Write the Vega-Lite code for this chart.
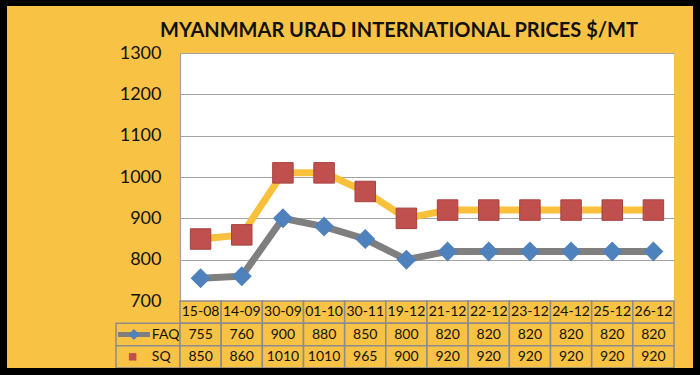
{
  "$schema": "https://vega.github.io/schema/vega-lite/v6.json",
  "background": "#F8C244",
  "padding": 0,
  "columns": 6,
  "spacing": 0,
  "bounds": "flush",
  "align": "each",
  "config": {"font": "Lato"},
  "datasets": {
    "prices": [
      {"date": "15-08", "FAQ": 755, "SQ": 850},
      {"date": "14-09", "FAQ": 760, "SQ": 860},
      {"date": "30-09", "FAQ": 900, "SQ": 1010},
      {"date": "01-10", "FAQ": 880, "SQ": 1010},
      {"date": "30-11", "FAQ": 850, "SQ": 965},
      {"date": "19-12", "FAQ": 800, "SQ": 900},
      {"date": "21-12", "FAQ": 820, "SQ": 920},
      {"date": "22-12", "FAQ": 820, "SQ": 920},
      {"date": "23-12", "FAQ": 820, "SQ": 920},
      {"date": "24-12", "FAQ": 820, "SQ": 920},
      {"date": "25-12", "FAQ": 820, "SQ": 920},
      {"date": "26-12", "FAQ": 820, "SQ": 920}
    ]
  },
  "concat": [
    {"width": 7, "height": 6, "view": {"fill": "#000000", "stroke": null}, "data": {"values": []}, "mark": "rect", "encoding": {}},
    {"width": 109, "height": 6, "view": {"fill": "#000000", "stroke": null}, "data": {"values": []}, "mark": "rect", "encoding": {}},
    {"width": 64, "height": 6, "view": {"fill": "#000000", "stroke": null}, "data": {"values": []}, "mark": "rect", "encoding": {}},
    {"width": 494, "height": 6, "view": {"fill": "#000000", "stroke": null}, "data": {"values": []}, "mark": "rect", "encoding": {}},
    {"width": 19, "height": 6, "view": {"fill": "#000000", "stroke": null}, "data": {"values": []}, "mark": "rect", "encoding": {}},
    {"width": 7, "height": 6, "view": {"fill": "#000000", "stroke": null}, "data": {"values": []}, "mark": "rect", "encoding": {}},

    {"width": 7, "height": 47, "view": {"fill": "#000000", "stroke": null}, "data": {"values": []}, "mark": "rect", "encoding": {}},
    {"width": 109, "height": 47, "view": {"stroke": null}, "data": {"values": []}, "mark": "rect", "encoding": {}},
    {"width": 64, "height": 47, "view": {"stroke": null}, "data": {"values": []}, "mark": "rect", "encoding": {}},
    {
      "width": 494, "height": 47,
      "view": {"stroke": null},
      "data": {"values": [{}]},
      "mark": {"type": "text", "text": "MYANMMAR URAD INTERNATIONAL PRICES $/MT", "font": "Lato", "fontWeight": "bold", "fontSize": 20, "color": "#111111", "align": "center", "baseline": "middle", "dx": -28, "dy": 1},
      "encoding": {}
    },
    {"width": 19, "height": 47, "view": {"stroke": null}, "data": {"values": []}, "mark": "rect", "encoding": {}},
    {"width": 7, "height": 47, "view": {"fill": "#000000", "stroke": null}, "data": {"values": []}, "mark": "rect", "encoding": {}},

    {"width": 7, "height": 248, "view": {"fill": "#000000", "stroke": null}, "data": {"values": []}, "mark": "rect", "encoding": {}},
    {"width": 109, "height": 248, "view": {"stroke": null}, "data": {"values": []}, "mark": "rect", "encoding": {}},
    {"width": 64, "height": 248, "view": {"stroke": null}, "data": {"values": []}, "mark": "rect", "encoding": {}},
    {
      "width": 494, "height": 248,
      "view": {"fill": "#FFFFFF", "stroke": null},
      "data": {"name": "prices"},
      "encoding": {
        "x": {"field": "date", "type": "ordinal", "sort": null, "scale": {"type": "point", "padding": 0.5}, "axis": null}
      },
      "layer": [
        {
          "mark": {"type": "line", "color": "#7F7F7F", "strokeWidth": 7},
          "encoding": {
            "y": {
              "field": "FAQ", "type": "quantitative", "title": null,
              "scale": {"domain": [700, 1300]},
              "axis": {
                "values": [700, 800, 900, 1000, 1100, 1200, 1300],
                "format": "d",
                "grid": true, "gridColor": "#A3A3A3", "gridWidth": 1.2,
                "domainColor": "#A3A3A3", "domainWidth": 1.2,
                "ticks": false,
                "labelFont": "Lato", "labelFontSize": 18, "labelColor": "#111111",
                "labelPadding": 19
              }
            }
          }
        },
        {
          "mark": {"type": "line", "color": "#F9C03C", "strokeWidth": 7},
          "encoding": {"y": {"field": "SQ", "type": "quantitative", "title": null}}
        },
        {
          "mark": {"type": "point", "shape": "diamond", "size": 400, "filled": true, "color": "#4F81BD", "opacity": 1},
          "encoding": {"y": {"field": "FAQ", "type": "quantitative", "title": null}}
        },
        {
          "mark": {"type": "point", "shape": "square", "size": 420, "filled": true, "color": "#C0504D", "stroke": "#A64240", "strokeWidth": 1, "opacity": 1},
          "encoding": {"y": {"field": "SQ", "type": "quantitative", "title": null}}
        }
      ]
    },
    {"width": 19, "height": 248, "view": {"stroke": null}, "data": {"values": []}, "mark": "rect", "encoding": {}},
    {"width": 7, "height": 248, "view": {"fill": "#000000", "stroke": null}, "data": {"values": []}, "mark": "rect", "encoding": {}},

    {"width": 7, "height": 67, "view": {"fill": "#000000", "stroke": null}, "data": {"values": []}, "mark": "rect", "encoding": {}},
    {"width": 109, "height": 67, "view": {"stroke": null}, "data": {"values": []}, "mark": "rect", "encoding": {}},
    {
      "width": 64, "height": 67,
      "view": {"stroke": null},
      "data": {"values": [{"row": "FAQ"}, {"row": "SQ"}]},
      "layer": [
        {
          "mark": {"type": "rect", "fill": "#F8C244", "stroke": "#8C8C8C", "strokeWidth": 1.5},
          "encoding": {
            "y": {"field": "row", "type": "nominal", "scale": {"type": "band", "domain": ["date", "FAQ", "SQ"], "paddingInner": 0, "paddingOuter": 0}, "axis": null}
          }
        },
        {
          "transform": [{"filter": "datum.row === 'FAQ'"}],
          "mark": {"type": "rule", "color": "#7F7F7F", "strokeWidth": 5},
          "encoding": {
            "y": {"field": "row", "type": "nominal", "bandPosition": 0.5},
            "x": {"datum": 0.03, "type": "quantitative", "scale": {"domain": [0, 1]}, "axis": null},
            "x2": {"datum": 0.53}
          }
        },
        {
          "transform": [{"filter": "datum.row === 'FAQ'"}],
          "mark": {"type": "point", "shape": "diamond", "size": 120, "filled": true, "color": "#4F81BD", "opacity": 1},
          "encoding": {
            "y": {"field": "row", "type": "nominal", "bandPosition": 0.5},
            "x": {"datum": 0.28, "type": "quantitative"}
          }
        },
        {
          "transform": [{"filter": "datum.row === 'SQ'"}],
          "mark": {"type": "point", "shape": "square", "size": 56, "filled": true, "color": "#C0504D", "opacity": 1},
          "encoding": {
            "y": {"field": "row", "type": "nominal", "bandPosition": 0.5},
            "x": {"datum": 0.26, "type": "quantitative"}
          }
        },
        {
          "mark": {"type": "text", "align": "left", "baseline": "middle", "font": "Lato", "fontSize": 14, "color": "#111111"},
          "encoding": {
            "y": {"field": "row", "type": "nominal", "bandPosition": 0.5},
            "x": {"datum": 0.56, "type": "quantitative"},
            "text": {"field": "row"}
          }
        }
      ]
    },
    {
      "width": 494, "height": 67,
      "view": {"stroke": null},
      "data": {"name": "prices"},
      "encoding": {
        "x": {"field": "date", "type": "nominal", "sort": null, "scale": {"type": "band", "paddingInner": 0, "paddingOuter": 0}, "axis": null}
      },
      "layer": [
        {
          "mark": {"type": "rect", "fill": "#F8C244", "stroke": "#8C8C8C", "strokeWidth": 1.5},
          "encoding": {
            "y": {"datum": "date", "type": "nominal", "scale": {"type": "band", "domain": ["date", "FAQ", "SQ"], "paddingInner": 0, "paddingOuter": 0}, "axis": null}
          }
        },
        {
          "transform": [{"fold": ["FAQ", "SQ"]}],
          "mark": {"type": "rect", "fill": "#F8C244", "stroke": "#8C8C8C", "strokeWidth": 1.5},
          "encoding": {"y": {"field": "key", "type": "nominal"}}
        },
        {
          "mark": {"type": "text", "font": "Lato", "fontSize": 14, "color": "#111111", "baseline": "middle"},
          "encoding": {"y": {"datum": "date", "type": "nominal"}, "text": {"field": "date"}}
        },
        {
          "transform": [{"fold": ["FAQ", "SQ"]}],
          "mark": {"type": "text", "font": "Lato", "fontSize": 14, "color": "#111111", "baseline": "middle"},
          "encoding": {"y": {"field": "key", "type": "nominal"}, "text": {"field": "value", "type": "nominal"}}
        }
      ]
    },
    {"width": 19, "height": 67, "view": {"stroke": null}, "data": {"values": []}, "mark": "rect", "encoding": {}},
    {"width": 7, "height": 67, "view": {"fill": "#000000", "stroke": null}, "data": {"values": []}, "mark": "rect", "encoding": {}},

    {"width": 7, "height": 7, "view": {"fill": "#000000", "stroke": null}, "data": {"values": []}, "mark": "rect", "encoding": {}},
    {"width": 109, "height": 7, "view": {"fill": "#000000", "stroke": null}, "data": {"values": []}, "mark": "rect", "encoding": {}},
    {"width": 64, "height": 7, "view": {"fill": "#000000", "stroke": null}, "data": {"values": []}, "mark": "rect", "encoding": {}},
    {"width": 494, "height": 7, "view": {"fill": "#000000", "stroke": null}, "data": {"values": []}, "mark": "rect", "encoding": {}},
    {"width": 19, "height": 7, "view": {"fill": "#000000", "stroke": null}, "data": {"values": []}, "mark": "rect", "encoding": {}},
    {"width": 7, "height": 7, "view": {"fill": "#000000", "stroke": null}, "data": {"values": []}, "mark": "rect", "encoding": {}}
  ]
}
